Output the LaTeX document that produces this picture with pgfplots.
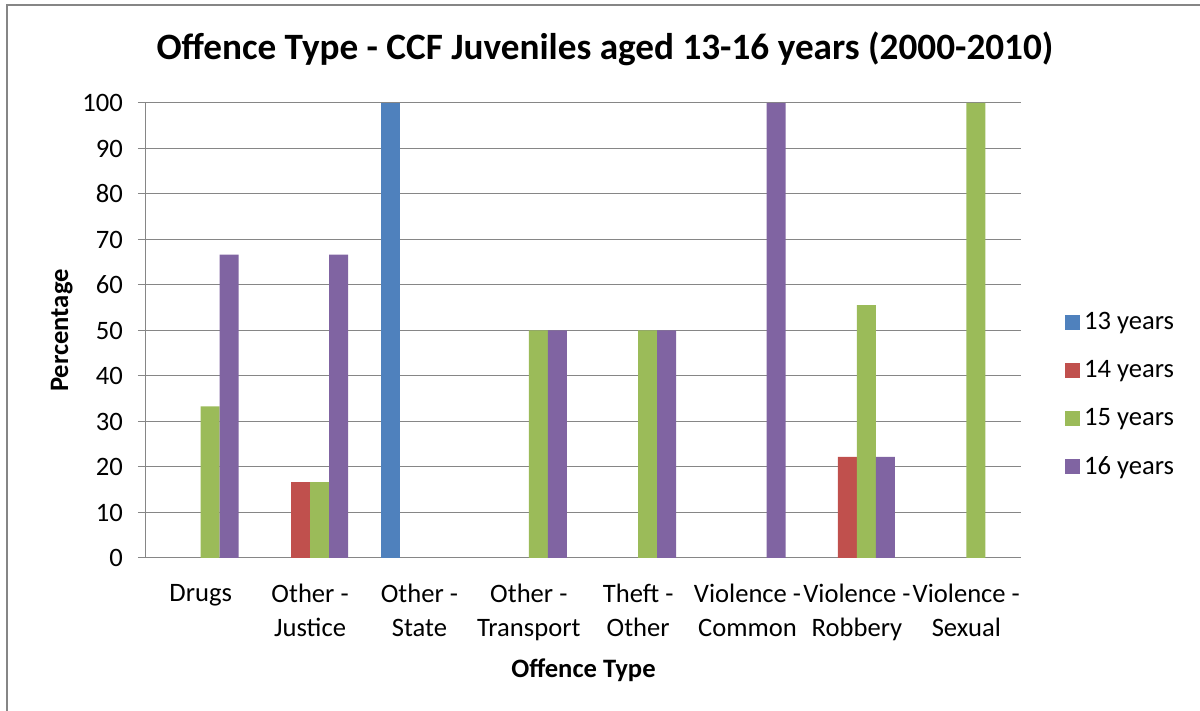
\documentclass[border=0pt]{standalone}
\usepackage{pgfplots}
\pgfplotsset{compat=1.18}
\usepackage{fontspec}
\setmainfont{Carlito}
\definecolor{c13}{HTML}{4F81BD}
\definecolor{c14}{HTML}{C0504D}
\definecolor{c15}{HTML}{9BBB59}
\definecolor{c16}{HTML}{8064A2}
\definecolor{gridc}{HTML}{868686}
\begin{document}
\begin{tikzpicture}
\path[use as bounding box] (0,0) rectangle (600pt,355.5pt);
\draw[color=gridc, line width=1pt] (3.5pt,0) -- (3.5pt,353pt) -- (600pt,353pt);
\node[font=\bfseries\fontsize{18.6}{22}\selectfont] at (302.5pt,331pt) {Offence Type - CCF Juveniles aged 13-16 years (2000-2010)};
\begin{axis}[
  at={(73pt,76.5pt)}, anchor=south west, scale only axis,
  width=437.5pt, height=227.5pt,
  ybar=0pt, bar width=9.5pt,
  xmin=-0.5, xmax=7.5, ymin=0, ymax=100,
  ytick={0,10,...,100},
  xtick={0,...,7},
  xticklabels={Drugs,{Other -\\Justice},{Other -\\State},{Other -\\Transport},{Theft -\\Other},{Violence -\\Common},{Violence -\\Robbery},{Violence -\\Sexual}},
  axis lines*=left,
  axis line style={-, draw=gridc, line width=0.5pt},
  ymajorgrids, grid style={draw=gridc, line width=0.5pt},
  major x tick style={draw=none},
  major y tick style={draw=gridc, line width=0.5pt},
  tick align=outside, major tick length=4pt,
  /pgf/number format/assume math mode=true,
  yticklabel style={font=\fontsize{13.3}{15}\selectfont, xshift=-4pt},
  xticklabel style={align=center, font=\fontsize{13.3}{17}\selectfont, yshift=-5.5pt},
  ylabel={\bfseries Percentage},
  ylabel style={font=\fontsize{13.3}{15}\selectfont, yshift=-2pt},
  xlabel={\bfseries Offence Type},
  xlabel style={font=\fontsize{13.3}{15}\selectfont, yshift=-2pt},
  legend style={draw=none, at={(1.050,0.359)}, anchor=west, font=\fontsize{13.3}{15}\selectfont, row sep=10pt, inner sep=0pt},
  legend cell align=left,
  legend image code/.code={\fill[#1] (0pt,-3.75pt) rectangle (7.5pt,3.75pt);},
]
\addplot[fill=c13, draw=none] coordinates {(2,100)};
\addplot[fill=c14, draw=none] coordinates {(1,16.67) (6,22.22)};
\addplot[fill=c15, draw=none] coordinates {(0,33.33) (1,16.67) (3,50) (4,50) (6,55.56) (7,100)};
\addplot[fill=c16, draw=none] coordinates {(0,66.67) (1,66.67) (3,50) (4,50) (5,100) (6,22.22)};
\legend{13 years,14 years,15 years,16 years}
\end{axis}
\end{tikzpicture}
\end{document}
